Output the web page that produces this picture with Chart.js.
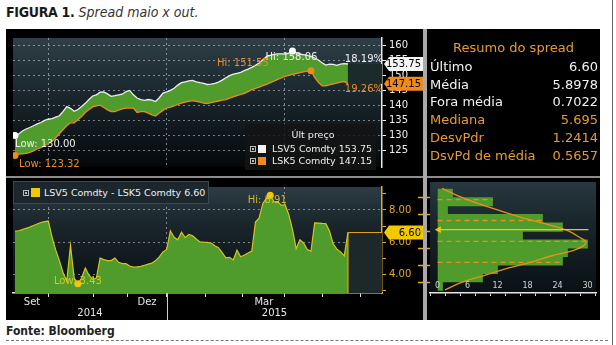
<!DOCTYPE html>
<html lang="pt-BR">
<head>
<meta charset="utf-8">
<title>Spread maio x out.</title>
<script src="https://cdn.jsdelivr.net/npm/chart.js@4.4.1/dist/chart.umd.min.js"></script>
<style>
  html, body { margin: 0; padding: 0; background: #fff; }
  body { position: relative; width: 616px; height: 345px; overflow: hidden; font-family: "DejaVu Sans", sans-serif; }
  .abs { position: absolute; }
  canvas { position: absolute; }
  #title { left: 6px; top: 4px; font-size: 14px; font-family: "Liberation Sans Narrow", "DejaVu Sans Condensed", sans-serif; color: #1a1a1a; white-space: nowrap; }
  #title b { letter-spacing: -0.3px; }
  #title i { color: #333; }
  #panel { left: 6px; top: 29px; width: 594px; height: 291px; background: #000; }
  #edge { left: 612px; top: 0; width: 1px; height: 345px; background: #666; }
  #hsep { left: 6px; top: 176px; width: 594px; height: 2px; background: #8d8d8d; }
  #vsep { left: 423px; top: 29px; width: 4px; height: 291px; background: #a9a9a9; }
  #source { left: 6px; top: 324px; font: bold 12px "Liberation Sans Narrow", "DejaVu Sans Condensed", sans-serif; color: #222; }
  #dash { left: 6px; top: 340px; width: 602px; border-top: 1px dashed #777; }

  #summary { left: 427px; top: 29px; width: 173px; height: 147px; font-size: 13px; }
  #summary .head { position: absolute; left: 0; width: 173px; top: 10px; line-height: 18px; text-align: center; color: #eb9a2c; }
  #summary .row { position: absolute; left: 3px; right: 2px; height: 18px; line-height: 18px; white-space: nowrap; }
  #summary .row span:last-child { position: absolute; right: 0; }

  #legTop { left: 245px; top: 124px; width: 131px; height: 46px; background: rgba(20,20,20,0.85); font-size: 9.5px; color: #eee; }
  #legTop .head { position: absolute; left: 0; width: 136px; top: 5px; line-height: 12px; text-align: center; }
  .lrow { position: absolute; left: 0; right: 0; height: 12px; line-height: 12px; white-space: nowrap; }
  .ico { position: absolute; width: 4px; height: 4px; border: 1px solid #bbb; top: 3px; }
  .ico::after { content: ""; position: absolute; left: 1px; top: 1px; width: 2px; height: 2px; background: #bbb; }
  .sw { position: absolute; }
  .nm { position: absolute; }
  .val { position: absolute; right: 4px; }

  #legBot { left: 13px; top: 181px; width: 194px; height: 21px; background: #1b272d; border: 1px solid #3b4a51; font-size: 9.5px; color: #eee; }
</style>
</head>
<body>
<div id="title" class="abs"><b>FIGURA 1.</b> <i>Spread maio x out.</i></div>
<div id="edge" class="abs"></div>
<div id="panel" class="abs"></div>

<canvas id="priceChart" width="419" height="147" style="left:6px; top:29px"></canvas>
<canvas id="spreadChart" width="419" height="142" style="left:6px; top:178px"></canvas>
<canvas id="histChart" width="185" height="142" style="left:415px; top:178px"></canvas>

<div id="hsep" class="abs"></div>
<div id="vsep" class="abs"></div>

<div id="summary" class="abs"><div class="head">Resumo do spread</div></div>

<div id="legTop" class="abs">
  <div class="head">Últ preço</div>
  <div class="lrow" style="top:19px"><span class="ico" style="left:5px"></span><span class="sw" style="left:13px; top:2px; width:8px; height:8px; background:#f4f4f4"></span><span class="nm" style="left:27px">LSV5 Comdty</span><span class="val" id="lastV"></span></div>
  <div class="lrow" style="top:31px"><span class="ico" style="left:5px"></span><span class="sw" style="left:13px; top:2px; width:8px; height:8px; background:#f08a1c"></span><span class="nm" style="left:27px">LSK5 Comdty</span><span class="val" id="lastK"></span></div>
</div>

<div id="legBot" class="abs">
  <div class="lrow" style="top:5px"><span class="ico" style="left:9px"></span><span class="sw" style="left:17px; top:1px; width:9px; height:9px; background:#f2c800"></span><span class="nm" style="left:30px" id="spreadLegend"></span></div>
</div>

<div id="source" class="abs">Fonte: Bloomberg</div>
<div id="dash" class="abs"></div>

<script>
// LSV5 (out) and LSK5 (maio) closes, one value every two sessions, Sep 2014 - May 2015
const lsv5 = [
  130.00, 130.48, 131.46, 132.14, 132.63, 133.22, 133.81, 134.30, 134.98, 135.38,
  135.57, 136.06, 136.55, 138.02, 139.59, 139.00, 138.02, 138.61, 139.59, 140.67,
  141.94, 143.12, 143.51, 144.39, 144.49, 143.80, 143.02, 143.22, 143.51, 143.71,
  144.59, 144.98, 143.51, 142.43, 141.94, 141.65, 141.94, 141.75, 141.26, 142.53,
  144.10, 144.49, 144.98, 145.67, 146.74, 147.53, 147.82, 148.12, 148.31, 147.82,
  147.53, 147.33, 146.94, 147.04, 147.33, 147.72, 148.41, 149.19, 149.88, 150.37,
  150.66, 150.96, 151.55, 152.04, 152.62, 153.31, 154.09, 155.17, 156.25, 156.64,
  156.94, 157.13, 157.13, 157.03, 157.40, 158.06, 157.50, 157.00, 156.90, 156.60,
  156.25, 155.76, 155.07, 154.19, 153.41, 153.70, 153.60, 153.31, 153.70, 153.90,
  153.75
];
const lsk5 = [
  123.32, 123.81, 123.91, 124.00, 124.40, 124.89, 125.48, 125.97, 126.56, 127.24,
  128.03, 129.20, 130.57, 131.95, 133.22, 134.20, 134.20, 135.18, 136.26, 137.63,
  138.61, 139.49, 139.79, 140.08, 139.30, 138.51, 137.92, 137.92, 138.41, 138.80,
  139.10, 139.10, 139.10, 137.63, 137.92, 137.92, 137.43, 136.85, 136.45, 137.43,
  138.32, 139.10, 139.39, 139.79, 140.28, 140.77, 141.06, 141.35, 141.55, 141.35,
  141.06, 140.77, 140.57, 140.87, 141.16, 141.45, 141.75, 141.94, 142.43, 142.82,
  143.22, 143.61, 144.00, 144.59, 145.18, 145.67, 146.06, 146.55, 146.94, 147.53,
  148.02, 148.61, 149.10, 149.68, 149.98, 150.27, 150.57, 150.86, 151.15, 151.40,
  151.55, 149.29, 147.63, 146.45, 146.45, 146.84, 147.14, 147.43, 147.72, 147.92,
  147.15
];
// LSV5 - LSK5
const spread = [
  6.68, 6.71, 6.78, 6.86, 6.93, 7.03, 7.13, 7.22, 7.27, 7.31,
  6.32, 5.52, 4.86, 4.10, 3.60, 5.80, 3.76, 3.43, 3.78, 4.40,
  3.95, 3.70, 3.78, 5.02, 4.92, 4.86, 4.86, 5.02, 4.75, 4.67,
  4.67, 4.52, 4.45, 4.47, 4.50, 4.57, 4.64, 4.70, 4.86, 5.09,
  5.40, 5.55, 6.70, 6.30, 6.15, 6.62, 6.28, 6.48, 6.39, 6.20,
  6.02, 6.00, 5.99, 5.95, 5.78, 5.66, 5.35, 5.03, 5.06, 4.90,
  5.50, 5.10, 5.20, 5.33, 5.45, 7.25, 7.50, 8.40, 8.74, 8.91,
  8.50, 8.52, 8.28, 8.32, 7.70, 6.80, 5.60, 6.15, 5.95, 5.55,
  5.45, 7.20, 7.18, 7.16, 7.15, 6.70, 5.90, 5.57, 5.40, 5.15,
  6.60
];
const changePct = ['18.19%', '19.26%'];

// sample positions of month starts (x axis is the sample index)
const monthStarts = [9.19, 21.1, 30.3, 41.08, 51.4, 61.6, 72.97, 83.0, 93.5];
const quarterStarts = [9.19, 41.08, 72.97];
const monthLabels = ['Set', 'Dez', 'Mar'];
const monthSpans = [[0, 9.19], [30.3, 41.08], [61.6, 72.97]];
const yearLabels = ['2014', '2015'];
const yearStart = 41.08;

const priceTicks = [125, 130, 135, 140, 145, 150, 155, 160];
const spreadTicks = [3, 4, 5, 6, 7, 8, 9];

// spread distribution (0.5-wide bins)
const binCenters = [8.75, 8.25, 7.75, 7.25, 6.75, 6.25, 5.75, 5.25, 4.75, 4.25, 3.75, 3.25];
const binCounts  = [3, 11, 2, 21, 25, 17, 30, 26, 25, 12, 9, 1];
const curveLevels = [9.04, 8.47, 7.90, 7.33, 6.95, 6.57, 6.18, 5.84, 5.42, 5.04, 4.66, 4.28, 3.90, 3.52, 3.04];
const curveCounts = [0.9, 5.2, 10.6, 16.7, 21.5, 25.8, 28.2, 29.7, 27.6, 22.7, 18.5, 13.6, 9.4, 5.2, 1.5];
const bandLevels = [8.38, 7.14, 5.90, 4.66];
const countTicks = [0, 6, 12, 18, 24, 30];

const summaryLabels = ['Último', 'Média', 'Fora média', 'Mediana', 'DesvPdr', 'DsvPd de média'];
const summaryValues = ['6.60', '5.8978', '0.7022', '5.695', '1.2414', '0.5657'];
const summaryColors = ['#f2f2f2', '#f2f2f2', '#f2f2f2', '#eb9a2c', '#eb9a2c', '#eb9a2c'];

// axis ranges shared by the panels
const X_MIN = -0.54, X_MAX = 99.2;
const P_MIN = 119.5, P_MAX = 162.4;
const S_MIN = 2.85, S_MAX = 9.42;

const FONT = '"DejaVu Sans", sans-serif';
const GREEN = '#4f9b2b';
const ORANGE = '#f08a1c';
const YELLOW = '#f2c800';
const DOTS = 'rgba(215,215,215,0.55)';

Chart.defaults.font.family = FONT;
Chart.defaults.animation = false;

// ---- html parts ----
const summary = document.getElementById('summary');
summaryLabels.forEach((lab, i) => {
  const row = document.createElement('div');
  row.className = 'row';
  row.style.top = (28.8 + i * 17.8) + 'px';
  row.style.color = summaryColors[i];
  row.innerHTML = '<span>' + lab + '</span><span>' + summaryValues[i] + '</span>';
  summary.appendChild(row);
});
const last = spread.length - 1;
document.getElementById('lastV').textContent = lsv5[last].toFixed(2);
document.getElementById('lastK').textContent = lsk5[last].toFixed(2);
document.getElementById('spreadLegend').textContent = 'LSV5 Comdty - LSK5 Comdty ' + spread[last].toFixed(2);

// ---- helpers ----
const idxMax = a => a.indexOf(Math.max(...a));
const idxMin = a => a.indexOf(Math.min(...a));
const pts = a => a.map((v, i) => ({x: i, y: v}));
const markAt = idxs => ctx => idxs.includes(ctx.dataIndex) ? 3.5 : 0;

const plotBackground = {
  id: 'plotBackground',
  beforeDraw(chart, args, opts) {
    const {ctx, chartArea: a} = chart;
    const g = ctx.createLinearGradient(0, a.top, 0, a.bottom);
    opts.stops.forEach(s => g.addColorStop(s[0], s[1]));
    ctx.save();
    ctx.fillStyle = g;
    ctx.fillRect(a.left, a.top, a.right - a.left, a.bottom - a.top);
    ctx.restore();
  }
};

function valueTag(ctx, x0, x1, y, fill, text) {
  ctx.save();
  ctx.fillStyle = fill;
  ctx.beginPath();
  ctx.moveTo(x0, y);
  ctx.lineTo(x0 + 5, y - 7);
  ctx.lineTo(x1, y - 7);
  ctx.lineTo(x1, y + 7);
  ctx.lineTo(x0 + 5, y + 7);
  ctx.closePath();
  ctx.fill();
  ctx.fillStyle = '#000';
  ctx.font = '10px ' + FONT;
  ctx.textAlign = 'right';
  ctx.textBaseline = 'middle';
  ctx.fillText(text, x1 - 3, y + 0.5);
  ctx.restore();
}

function label(ctx, text, x, y, color, align) {
  ctx.save();
  ctx.font = '10px ' + FONT;
  ctx.fillStyle = color;
  ctx.textAlign = align || 'left';
  ctx.textBaseline = 'middle';
  ctx.fillText(text, x, y);
  ctx.restore();
}

// ---- price panel ----
const vHi = idxMax(lsv5), vLo = idxMin(lsv5), kHi = idxMax(lsk5), kLo = idxMin(lsk5);

const priceMarks = {
  id: 'priceMarks',
  beforeDatasetsDraw(chart) {
    const {ctx, scales: {x, y}, chartArea: a} = chart;
    const x0 = x.getPixelForValue(last);
    const yT = y.getPixelForValue(lsv5[last]), yB = y.getPixelForValue(lsk5[last]);
    ctx.save();
    ctx.fillStyle = '#1b2a2b';
    ctx.fillRect(x0, yT, a.right - x0, yB - yT);
    ctx.restore();
  },
  afterDraw(chart) {
    const {ctx, scales: {x, y}, chartArea: a} = chart;
    const px = i => x.getPixelForValue(i);
    label(ctx, 'Low: ' + lsv5[vLo].toFixed(2), px(vLo), y.getPixelForValue(lsv5[vLo]) + 9, '#f0f0f0');
    label(ctx, 'Low: ' + lsk5[kLo].toFixed(2), px(kLo) + 4, y.getPixelForValue(lsk5[kLo]) + 9, ORANGE);
    label(ctx, 'Hi: ' + lsv5[vHi].toFixed(2), px(vHi) - 1, y.getPixelForValue(lsv5[vHi]) + 6.5, '#f0f0f0', 'center');
    label(ctx, 'Hi: ' + lsk5[kHi].toFixed(2), px(kHi) - 94, y.getPixelForValue(lsk5[kHi]) - 7.5, ORANGE);
    label(ctx, changePct[0], a.right + 1, y.getPixelForValue(lsv5[last]) - 5, '#f0f0f0', 'right');
    label(ctx, changePct[1], a.right + 1, y.getPixelForValue(lsk5[last]) + 6, ORANGE, 'right');
    valueTag(ctx, a.right + 2, chart.width - 1, y.getPixelForValue(lsv5[last]), '#f4f4f4', lsv5[last].toFixed(2));
    valueTag(ctx, a.right + 2, chart.width - 1, y.getPixelForValue(lsk5[last]), ORANGE, lsk5[last].toFixed(2));
  }
};

new Chart(document.getElementById('priceChart'), {
  type: 'line',
  data: {
    datasets: [{
      data: pts(lsv5),
      borderColor: '#eeeeee',
      borderWidth: 1.3,
      backgroundColor: GREEN,
      fill: '+1',
      pointRadius: markAt([vHi, vLo]),
      pointBackgroundColor: '#ffffff',
      pointBorderWidth: 0
    }, {
      data: pts(lsk5),
      borderColor: ORANGE,
      borderWidth: 1.3,
      fill: false,
      pointRadius: markAt([kHi, kLo]),
      pointBackgroundColor: ORANGE,
      pointBorderWidth: 0
    }]
  },
  options: {
    responsive: false,
    layout: { padding: { left: 7, top: 0, right: 0, bottom: 0 } },
    scales: {
      x: {
        type: 'linear', min: X_MIN, max: X_MAX,
        afterBuildTicks: s => { s.ticks = quarterStarts.map(v => ({value: v})); },
        ticks: { display: false },
        grid: { color: DOTS, drawTicks: false },
        border: { display: false, dash: [2, 3] },
        afterFit: s => { s.height = 1; }
      },
      y: {
        position: 'right', min: P_MIN, max: P_MAX,
        afterBuildTicks: s => { s.ticks = priceTicks.map(v => ({value: v})); },
        ticks: { color: '#eeeeee', font: { size: 10 }, padding: 3 },
        grid: { color: DOTS, tickColor: '#f0f0f0', tickLength: 4 },
        border: { display: true, color: '#e8e8e8', width: 1.5, dash: [2, 3] },
        afterFit: s => { s.width = 43; }
      }
    },
    plugins: {
      legend: { display: false },
      tooltip: { enabled: false },
      filler: { drawTime: 'beforeDatasetsDraw' },
      plotBackground: { stops: [[0, '#2f3f47'], [0.35, '#1d2b32'], [0.7, '#10191e'], [1, '#05080a']] }
    }
  },
  plugins: [plotBackground, priceMarks]
});

// ---- spread panel ----
const sHi = idxMax(spread), sLo = idxMin(spread);

const spreadMarks = {
  id: 'spreadMarks',
  afterDraw(chart) {
    const {ctx, scales: {x, y}, chartArea: a} = chart;
    label(ctx, 'Hi: ' + spread[sHi].toFixed(2), x.getPixelForValue(sHi) - 3, y.getPixelForValue(spread[sHi]) + 5, 'rgba(232,208,40,0.85)', 'center');
    label(ctx, 'Low: ' + spread[sLo].toFixed(2), x.getPixelForValue(sLo), y.getPixelForValue(spread[sLo]) - 2, 'rgba(232,208,40,0.85)', 'center');
    valueTag(ctx, a.right + 2, chart.width - 1, y.getPixelForValue(spread[last]), YELLOW, spread[last].toFixed(2));

    // month and year labels under the axis
    ctx.save();
    ctx.font = '10px ' + FONT;
    ctx.fillStyle = '#e6e6e6';
    ctx.textAlign = 'center';
    ctx.textBaseline = 'middle';
    monthLabels.forEach((m, k) => {
      const cx = (x.getPixelForValue(monthSpans[k][0]) + x.getPixelForValue(monthSpans[k][1])) / 2;
      ctx.fillText(m, cx, a.bottom + 9);
    });
    const sep = x.getPixelForValue(yearStart);
    ctx.fillText(yearLabels[0], (a.left + sep) / 2, a.bottom + 20);
    ctx.fillText(yearLabels[1], (sep + a.right) / 2, a.bottom + 20);
    ctx.strokeStyle = '#cfcfcf';
    ctx.lineWidth = 1;
    ctx.beginPath();
    ctx.moveTo(Math.round(sep) + 0.5, a.bottom);
    ctx.lineTo(Math.round(sep) + 0.5, chart.height);
    ctx.stroke();
    ctx.restore();
  }
};

new Chart(document.getElementById('spreadChart'), {
  type: 'line',
  data: {
    datasets: [{
      data: pts(spread),
      borderColor: '#d8c41c',
      borderWidth: 1.2,
      backgroundColor: GREEN,
      fill: 'start',
      pointRadius: markAt([sHi, sLo]),
      pointBackgroundColor: YELLOW,
      pointBorderWidth: 0
    }, {
      // last value carried to the right edge
      data: [{x: last, y: S_MIN}, {x: last, y: spread[last]}, {x: X_MAX, y: spread[last]}],
      borderColor: '#e3a21a',
      borderWidth: 1.2,
      backgroundColor: '#1c2829',
      fill: 'start',
      pointRadius: 0
    }]
  },
  options: {
    responsive: false,
    layout: { padding: { left: 7, top: 0, right: 0, bottom: 0 } },
    scales: {
      x: {
        type: 'linear', min: X_MIN, max: X_MAX,
        afterBuildTicks: s => { s.ticks = monthStarts.map(v => ({value: v})); },
        ticks: { display: false },
        grid: {
          color: c => (c.tick && quarterStarts.includes(c.tick.value)) ? DOTS : 'transparent',
          tickColor: '#dddddd', tickLength: 4
        },
        border: { display: true, color: '#e6e6e6', width: 1.5, dash: [2, 3] },
        afterFit: s => { s.height = 27; }
      },
      y: {
        position: 'right', min: S_MIN, max: S_MAX,
        afterBuildTicks: s => { s.ticks = spreadTicks.map(v => ({value: v})); },
        ticks: { color: '#e8a62a', font: { size: 10 }, padding: 3, callback: v => v % 2 === 0 ? v.toFixed(2) : '' },
        grid: {
          color: c => (c.tick && c.tick.value % 2 === 0) ? DOTS : 'transparent',
          tickColor: '#e0b020', tickLength: 4
        },
        border: { display: true, color: '#d9b01c', width: 1.5, dash: [2, 3] },
        afterFit: s => { s.width = 43; }
      }
    },
    plugins: {
      legend: { display: false },
      tooltip: { enabled: false },
      filler: { drawTime: 'beforeDatasetsDraw' },
      plotBackground: { stops: [[0, '#2e3c44'], [0.3, '#1b282e'], [0.6, '#121c21'], [1, '#0a1013']] }
    }
  },
  plugins: [plotBackground, spreadMarks]
});

// ---- distribution panel ----
const countAt = level => binCounts[binCenters.findIndex(c => Math.abs(c - level) <= 0.25)] || 0;

const histLabels = {
  id: 'histLabels',
  afterDraw(chart) {
    const {ctx, scales: {x}, chartArea: a} = chart;
    ctx.save();
    ctx.font = '8px ' + FONT;
    ctx.fillStyle = '#d4d4d4';
    ctx.textAlign = 'center';
    ctx.textBaseline = 'middle';
    countTicks.forEach(v => ctx.fillText(String(v), x.getPixelForValue(v), a.bottom - 7));
    ctx.restore();
  }
};

new Chart(document.getElementById('histChart'), {
  type: 'bar',
  data: {
    datasets: [{
      type: 'line',
      order: 0,
      data: [{x: 0.25, y: spread[last]}, {x: 30.18, y: spread[last]}],
      borderColor: YELLOW,
      borderWidth: 1.4,
      pointRadius: [4, 0],
      pointStyle: 'triangle',
      rotation: -90,
      pointBackgroundColor: YELLOW,
      pointBorderWidth: 0
    }, {
      type: 'line',
      order: 1,
      data: curveCounts.map((c, i) => ({x: c, y: curveLevels[i]})),
      borderColor: '#e8901c',
      borderWidth: 1.3,
      tension: 0.35,
      pointRadius: 0
    },
    ...bandLevels.map(v => ({
      type: 'line',
      order: 2,
      data: [{x: 0, y: v}, {x: countAt(v), y: v}],
      borderColor: '#e8901c',
      borderWidth: 1.3,
      borderDash: [5, 4],
      pointRadius: 0
    })), {
      type: 'bar',
      order: 5,
      indexAxis: 'y',
      data: binCounts.map((c, i) => ({x: c, y: binCenters[i]})),
      backgroundColor: GREEN,
      barPercentage: 1,
      categoryPercentage: 1
    }]
  },
  options: {
    responsive: false,
    layout: { padding: { left: 0, top: 0, right: 4, bottom: 0 } },
    scales: {
      x: {
        type: 'linear', min: 0, max: 30.18,
        afterBuildTicks: s => { s.ticks = [0, 3, 6, 9, 12, 15, 18, 21, 24, 27, 30].map(v => ({value: v})); },
        ticks: { display: false },
        grid: { drawOnChartArea: false, tickColor: '#dddddd', tickLength: 3 },
        border: { display: true, color: '#e6e6e6', width: 1.5 },
        afterFit: s => { s.height = 27; }
      },
      y: {
        type: 'linear', position: 'left', min: S_MIN, max: S_MAX, offset: false,
        afterBuildTicks: s => { s.ticks = spreadTicks.map(v => ({value: v})); },
        ticks: { display: false },
        grid: { drawOnChartArea: false, tickColor: '#e0b020', tickLength: 12, tickWidth: 1.5 },
        border: { display: false },
        afterFit: s => { s.width = 15; }
      }
    },
    plugins: {
      legend: { display: false },
      tooltip: { enabled: false },
      plotBackground: { stops: [[0, '#283840'], [0.4, '#17242a'], [1, '#0a1114']] }
    }
  },
  plugins: [plotBackground, histLabels]
});
</script>
</body>
</html>
